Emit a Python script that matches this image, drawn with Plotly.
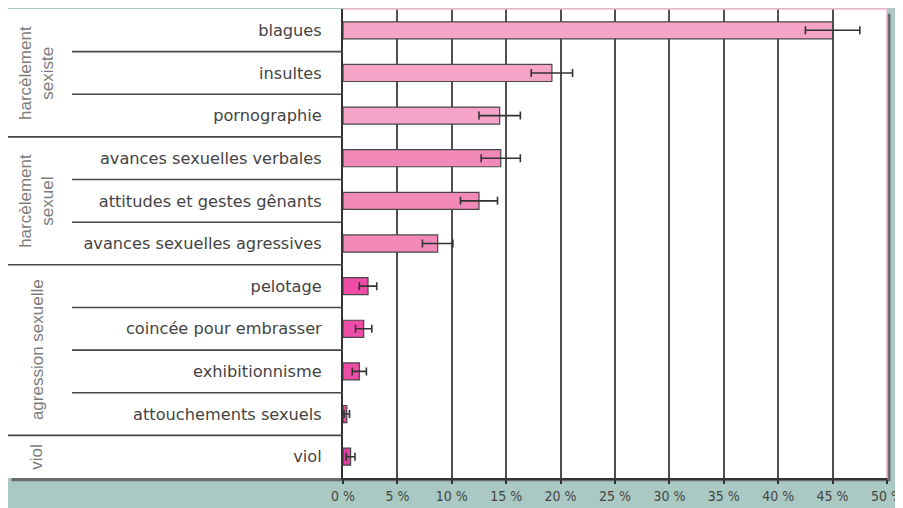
import plotly.graph_objects as go

# data
categories = ['blagues', 'insultes', 'pornographie',
              'avances sexuelles verbales', 'attitudes et gestes gênants',
              'avances sexuelles agressives',
              'pelotage', 'coincée pour embrasser', 'exhibitionnisme',
              'attouchements sexuels', 'viol']
values = [45.0, 19.2, 14.4, 14.5, 12.5, 8.7, 2.3, 1.9, 1.5, 0.35, 0.7]
errors = [2.5, 1.9, 1.9, 1.8, 1.7, 1.4, 0.8, 0.75, 0.65, 0.25, 0.4]

groups = ['harcèlement<br>sexiste', 'harcèlement<br>sexuel',
          'agression sexuelle', 'viol']
group_sizes = [3, 3, 4, 1]
group_colors = ['#f5a3c7', '#f289b9', '#ee4ca6', '#dc3f9c']

x_ticks = [0, 5, 10, 15, 20, 25, 30, 35, 40, 45, 50]
x_ticktext = ['%d %%' % t for t in x_ticks]

TEAL = '#a9c9c2'
DARK = '#474747'
NARROW = 'DejaVu Sans Condensed, Liberation Sans Narrow, Liberation Sans, sans-serif'
# the page puts the figure 8px in from the top left corner
W, H = 903, 500
L, R, T, B = 0, 24, 1, 30
AXIS_PX = 335          # pixel where the bar axis starts
SUB_PX = 64            # pixel where the row separators start
GROUP_PX = 29          # centre of the rotated group labels

plot_w = W - L - R
dom0 = (AXIS_PX - L) / plot_w
sub0 = (SUB_PX - L) / plot_w

bar_colors = []
for c, n in zip(group_colors, group_sizes):
    bar_colors += [c] * n

fig = go.Figure()
fig.add_trace(go.Bar(
    y=categories, x=values, orientation='h', width=0.4,
    marker=dict(color=bar_colors, line=dict(color=DARK, width=1.2)),
    error_x=dict(type='data', array=errors, color='#333333',
                 thickness=1.6, width=4),
    showlegend=False, hoverinfo='x+y',
))

shapes = []
# shadow and white panel
shapes.append(dict(type='rect', xref='paper', yref='paper',
                   x0=0.004, x1=1.004, y0=-0.007, y1=0.99,
                   fillcolor='#6b6b6b', line=dict(width=0), layer='below'))
shapes.append(dict(type='rect', xref='paper', yref='paper',
                   x0=0, x1=1, y0=0, y1=1,
                   fillcolor='white', line=dict(width=0), layer='below'))
# pink top and right edge of plot area
shapes.append(dict(type='line', xref='paper', yref='paper',
                   x0=dom0, x1=1, y0=1, y1=1,
                   line=dict(color='#f3b3cf', width=1.5)))
shapes.append(dict(type='line', xref='paper', yref='paper',
                   x0=1, x1=1, y0=0, y1=1,
                   line=dict(color='#f3b3cf', width=1.5)))

# separators in the label panel
group_ends = []
acc = 0
for n in group_sizes:
    acc += n
    group_ends.append(acc)
for k in range(1, len(categories)):
    x0 = 0 if k in group_ends else sub0
    shapes.append(dict(type='line', xref='paper', yref='y',
                       x0=x0, x1=dom0, y0=k - 0.5, y1=k - 0.5,
                       line=dict(color=DARK, width=1.6)))

annotations = []
start = 0
for g, n in zip(groups, group_sizes):
    annotations.append(dict(
        text=g, xref='paper', yref='y',
        x=(GROUP_PX - L) / plot_w, y=start + (n - 1) / 2,
        textangle=-90, showarrow=False, xanchor='center', yanchor='middle',
        font=dict(family='Liberation Sans', size=17, color='#7c7c7c'),
    ))
    start += n

fig.update_layout(
    template='none',
    width=W, height=H,
    margin=dict(l=L, r=R, t=T, b=B, autoexpand=False),
    paper_bgcolor=TEAL,
    plot_bgcolor='rgba(0,0,0,0)',
    shapes=shapes,
    annotations=annotations,
    bargap=0.6,
    xaxis=dict(
        domain=[dom0, 1], range=[0, 50],
        tickvals=x_ticks, ticktext=x_ticktext,
        showgrid=True, gridcolor='#505050', gridwidth=2,
        zeroline=False, automargin=False, ticklabeloverflow='allow',
        showline=True, linecolor='#333333', linewidth=2,
        ticks='outside', ticklen=4, tickcolor='#333333', tickwidth=1.5,
        tickfont=dict(family=NARROW, size=14, color='#454545'),
        fixedrange=True,
    ),
    yaxis=dict(
        categoryorder='array', categoryarray=categories,
        range=[len(categories) - 0.5, -0.5],
        showgrid=False, zeroline=False, automargin=False,
        showline=True, linecolor='#333333', linewidth=2,
        ticks='', ticklabelstandoff=16,
        tickfont=dict(family='DejaVu Sans', size=16.2, color='#444444'),
        fixedrange=True,
    ),
)

fig.write_html('out.html')
